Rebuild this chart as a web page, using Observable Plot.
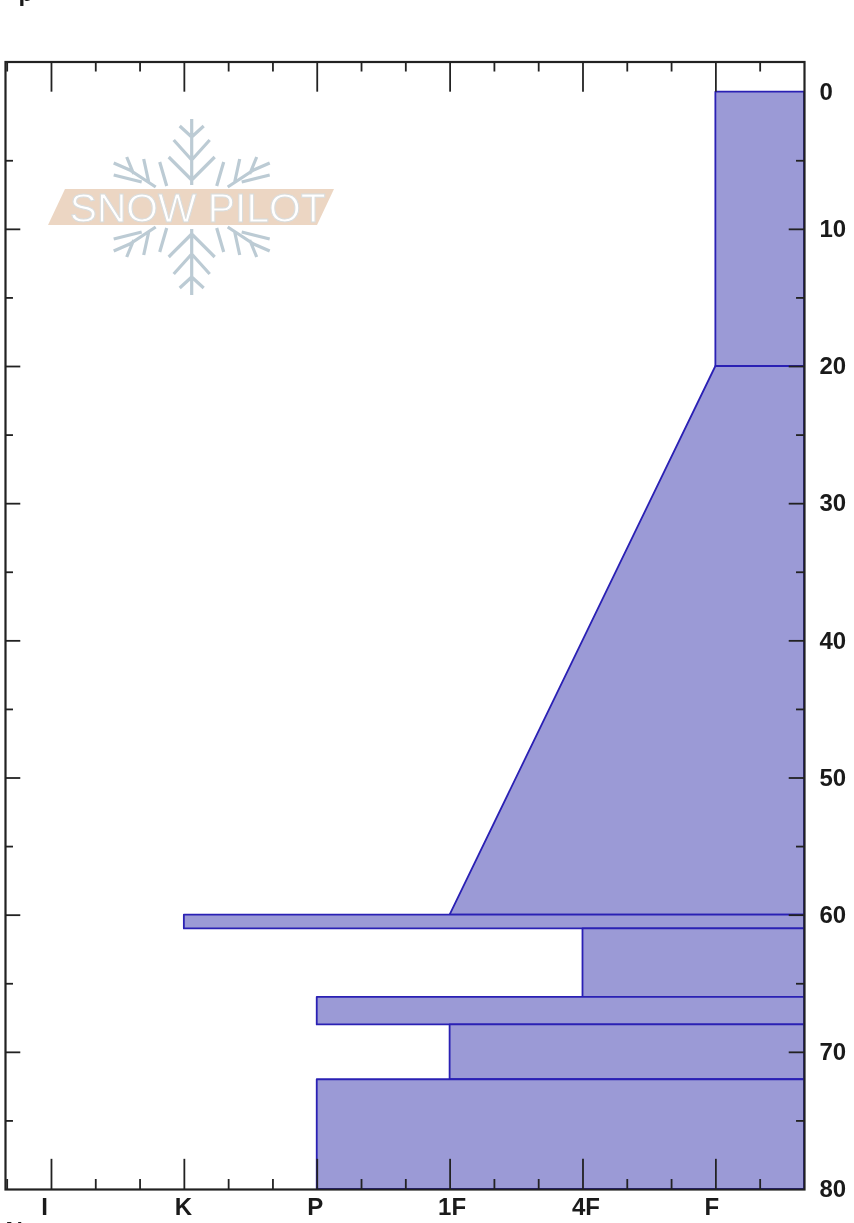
<!DOCTYPE html>
<html><head><meta charset="utf-8">
<script src="https://cdn.jsdelivr.net/npm/d3@7"></script>
<script src="https://cdn.jsdelivr.net/npm/@observablehq/plot@0.6"></script>
<style>html,body{margin:0;padding:0;background:#fff;overflow:hidden;width:854px;height:1223px}svg{display:block;filter:blur(0.45px)}</style>
</head><body><div id="chart"></div>
<script>
const hardnessLabels = ["I","K","P","1F","4F","F"];
const hardnessPositions = [0,1,2,3,4,5];
const hardnessMinor = [-1/3,1/3,2/3,4/3,5/3,7/3,8/3,10/3,11/3,13/3,14/3,16/3];
const hardnessLabelShift = [-7,-1,-2,2,3,-4];
const depthLabels = [0,10,20,30,40,50,60,70,80];
const depthMajor = [10,20,30,40,50,60,70];
const depthMinor = [5,15,25,35,45,55,65,75];
const layerTop = [0,20,60,61,66,68,72];
const layerBottom = [20,60,61,66,68,72,80];
const hardnessAtTop = [5,5,1,4,2,3,2];
const hardnessAtBottom = [5,3,1,4,2,3,2];

const xLeft = -0.346, xRight = 5.667, yTop = -2.2, yBottom = 80;
const layerPoints = layerTop.flatMap((t,i)=>[
  {layer:i, depth:t, h:hardnessAtTop[i]},
  {layer:i, depth:layerBottom[i], h:hardnessAtBottom[i]}
]);
const ink = "#222";
const labelFont = {fontFamily:"'Liberation Sans',Arial,sans-serif", fontWeight:"bold", fontSize:24, fill:"#1a1a1a"};

function logo(){
  const ns="http://www.w3.org/2000/svg";
  const g=document.createElementNS(ns,"g");
  g.setAttribute("transform","translate(191.7,207)");
  const arm='M0-22V-88M0-27L-23-50M0-27L23-50M0-47L-18-67M0-47L18-67M0-70L-12-81M0-70L12-81';
  const side='M36-20L62-37L78-44M48-48L43-25M65-50L58-33M78-32L50-25M25-21L32-45';
  const paths=[[arm,1,1],[arm,1,-1],[side,1,1],[side,-1,1],[side,1,-1],[side,-1,-1]];
  for(const [d,sx,sy] of paths){
    const p=document.createElementNS(ns,"path");
    p.setAttribute("d",d);p.setAttribute("fill","none");p.setAttribute("stroke","#bccbd4");
    p.setAttribute("stroke-width","3.2");p.setAttribute("transform",`scale(${sx},${sy})`);
    g.appendChild(p);
  }
  const band=document.createElementNS(ns,"path");
  band.setAttribute("d","M-126.7-18H142.3L125.3 18H-143.7Z");band.setAttribute("fill","#ecd6c3");
  g.appendChild(band);
  const t=document.createElementNS(ns,"text");
  t.textContent="SNOW PILOT";
  t.setAttribute("x","-122");t.setAttribute("y","15");
  t.setAttribute("text-anchor","start");
  t.setAttribute("textLength","256");t.setAttribute("lengthAdjust","spacingAndGlyphs");
  t.setAttribute("font-family","'Liberation Sans',Arial,sans-serif");t.setAttribute("font-size","40");
  t.setAttribute("fill","#fff");t.setAttribute("stroke","#d9dcdc");t.setAttribute("stroke-width","1");
  g.appendChild(t);
  return g;
}

const plot = Plot.plot({
  width:854, height:1223,
  marginTop:0, marginBottom:0, marginLeft:0, marginRight:0,
  style:{background:"#fff"},
  x:{domain:[xLeft,xRight], range:[5,804], axis:null},
  y:{domain:[yTop,yBottom], range:[61.5,1189], axis:null},
  marks:[
    logo,
    Plot.areaX(layerPoints,{x1:"h", x2:()=>xRight, y:"depth", z:"layer", fill:"#9b9ad6", stroke:"#2a20b4", strokeWidth:1.8, curve:"linear"}),
    Plot.ruleX(hardnessPositions,{y1:()=>yTop, y2:()=>yTop+2.2, stroke:ink, strokeWidth:1.8}),
    Plot.ruleX(hardnessPositions,{y1:()=>yBottom-2.2, y2:()=>yBottom, stroke:ink, strokeWidth:1.8}),
    Plot.ruleX(hardnessMinor,{y1:()=>yTop, y2:()=>yTop+0.73, stroke:ink, strokeWidth:1.8}),
    Plot.ruleX(hardnessMinor,{y1:()=>yBottom-0.73, y2:()=>yBottom, stroke:ink, strokeWidth:1.8}),
    Plot.ruleY(depthMajor,{x1:()=>xLeft, x2:()=>xLeft+0.115, stroke:ink, strokeWidth:1.8}),
    Plot.ruleY(depthMajor,{x1:()=>xRight-0.115, x2:()=>xRight, stroke:ink, strokeWidth:1.8}),
    Plot.ruleY(depthMinor,{x1:()=>xLeft, x2:()=>xLeft+0.06, stroke:ink, strokeWidth:1.8}),
    Plot.ruleY(depthMinor,{x1:()=>xRight-0.06, x2:()=>xRight, stroke:ink, strokeWidth:1.8}),
    Plot.frame({stroke:ink, strokeWidth:2.2, anchor:null, insetLeft:5, insetRight:50, insetTop:61.5, insetBottom:34}),
    Plot.text(depthLabels,{x:()=>xRight, y:d=>d, text:d=>String(d), textAnchor:"start", dx:15, ...labelFont}),
    ...hardnessLabels.map((s,i)=>Plot.text([s],{x:()=>hardnessPositions[i], y:()=>yBottom, text:d=>d, dx:hardnessLabelShift[i], dy:18, ...labelFont})),
    Plot.text(["Notes:"],{frameAnchor:"bottom-left", text:d=>d, textAnchor:"start", lineAnchor:"top", dx:5, dy:-2, ...labelFont}),
    Plot.text(["p"],{frameAnchor:"top-left", text:d=>d, textAnchor:"start", lineAnchor:"bottom", dx:18, dy:0, ...labelFont})
  ]
});
document.getElementById("chart").appendChild(plot);
</script></body></html>
